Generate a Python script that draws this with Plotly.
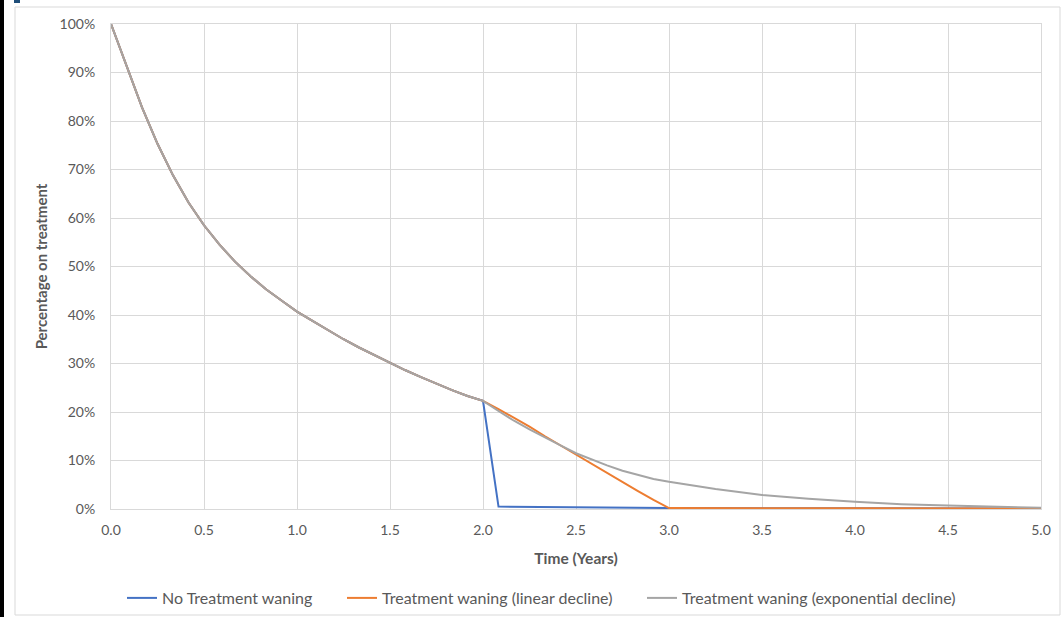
import plotly.graph_objects as go

# ---------------- data ----------------
# common base curve (monthly, 0 to 2 years)
t_base = [i / 12 for i in range(25)]
base_pct = [100, 91.4, 82.8, 75.3, 68.8, 63.2, 58.5, 54.5, 51, 48, 45.3, 43, 40.7,
            38.8, 36.9, 35, 33.3, 31.7, 30.2, 28.6, 27.2, 25.8, 24.5, 23.3, 22.3]

# No treatment waning after 2 years
t_blue_tail = [25 / 12, 2.5, 3.0, 4.0, 5.0]
blue_tail = [0.5, 0.4, 0.2, 0.15, 0.1]

# Linear decline after 2 years
t_orange_tail = [m / 12 for m in range(25, 37)] + [4.0, 5.0]
orange_tail = [20.6, 18.8, 17.0, 15.0, 13.1, 11.3, 9.4, 7.5, 5.6, 3.7, 1.9, 0.2, 0.15, 0.1]

# Exponential decline after 2 years
t_gray_tail = [m / 12 for m in range(25, 37)] + [3.25, 3.5, 3.75, 4.0, 4.25, 4.5, 4.75, 5.0]
gray_tail = [20.2, 18.2, 16.4, 14.7, 13.1, 11.5, 10.2, 9.0, 7.9, 7.0, 6.2, 5.6,
             4.1, 2.9, 2.1, 1.5, 1.0, 0.7, 0.45, 0.25]

series_names = ["No Treatment waning", "Treatment waning (linear decline)",
                "Treatment waning (exponential decline)"]
x_ticks = [0, 0.5, 1.0, 1.5, 2.0, 2.5, 3.0, 3.5, 4.0, 4.5, 5.0]
y_ticks = [0, 10, 20, 30, 40, 50, 60, 70, 80, 90, 100]
y_tick_text = [f"{v}%" for v in y_ticks]

# ---------------- figure ----------------
W, H = 1063, 617
L, R, T, B = 111, 22, 24, 108
pw, ph = W - L - R, H - T - B

def px_x(p):
    return (p - L) / pw

def px_y(p):
    return (H - B - p) / ph

fig = go.Figure()
txt = "#595959"
font_family = "Lato, 'Open Sans', sans-serif"

fig.add_trace(go.Scatter(x=t_base + t_blue_tail, y=base_pct + blue_tail, mode="lines",
                         name=series_names[0], line=dict(color="#4472C4", width=2),
                         legend="legend", showlegend=True))
fig.add_trace(go.Scatter(x=t_base + t_orange_tail, y=base_pct + orange_tail, mode="lines",
                         name=series_names[1], line=dict(color="#ED7D31", width=2),
                         legend="legend2", showlegend=True))
fig.add_trace(go.Scatter(x=t_base + t_gray_tail, y=base_pct + gray_tail, mode="lines",
                         name=series_names[2], line=dict(color="#A5A5A5", width=2),
                         legend="legend3", showlegend=True))

leg_common = dict(orientation="h", yanchor="middle", xanchor="left",
                  xref="container", yref="container",
                  font=dict(size=16, color=txt, family=font_family),
                  bgcolor="rgba(0,0,0,0)", borderwidth=0)
ly = 1 - 598 / H

fig.update_layout(
    width=W, height=H,
    showlegend=True,
    margin=dict(l=L, r=R, t=T, b=B),
    paper_bgcolor="white", plot_bgcolor="white",
    font=dict(family=font_family, color=txt, size=14),
    legend=dict(x=122 / W, y=ly, **leg_common),
    legend2=dict(x=342 / W, y=ly, **leg_common),
    legend3=dict(x=642 / W, y=ly, **leg_common),
    xaxis=dict(range=[0, 5], tickvals=x_ticks, tickformat=".1f",
               showgrid=True, gridcolor="#d9d9d9", gridwidth=1,
               showline=True, linecolor="#d9d9d9", mirror=True, zeroline=False,
               ticks="", ticklabelstandoff=8,
               tickfont=dict(size=14, color=txt),
               title=dict(text="<b>Time (Years)</b>", font=dict(size=15.5, color=txt),
                          standoff=16)),
    yaxis=dict(range=[0, 100], tickvals=y_ticks, ticktext=y_tick_text,
               showgrid=True, gridcolor="#d9d9d9", gridwidth=1,
               showline=True, linecolor="#d9d9d9", mirror=True, zeroline=False,
               ticks="", ticklabelstandoff=12,
               tickfont=dict(size=14, color=txt),
               title=dict(text="<b>Percentage on treatment</b>", font=dict(size=15, color=txt),
                          standoff=8)),
    shapes=[
        dict(type="rect", xref="paper", yref="paper",
             x0=px_x(15), x1=px_x(1060), y0=px_y(615), y1=px_y(7),
             line=dict(color="#d9d9d9", width=1), fillcolor="rgba(0,0,0,0)", layer="below"),
        dict(type="rect", xref="paper", yref="paper",
             x0=px_x(0), x1=px_x(4), y0=px_y(620), y1=px_y(-5),
             line=dict(width=0), fillcolor="black", layer="above"),
        dict(type="rect", xref="paper", yref="paper",
             x0=px_x(14), x1=px_x(20), y0=px_y(3), y1=px_y(-2),
             line=dict(width=0), fillcolor="#1f4e79", layer="above"),
    ],
)

fig.write_html("out.html", config={"displayModeBar": False},
               post_script="document.body.style.margin='0';")
